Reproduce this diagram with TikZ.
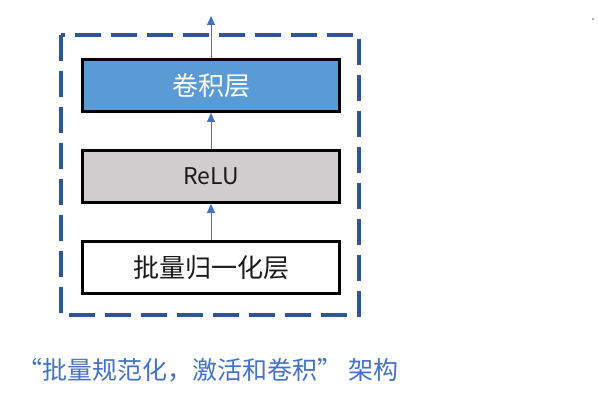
\documentclass[tikz,border=0pt]{standalone}
\usepackage{fontspec}
\setmainfont{Noto Sans CJK SC}
\usetikzlibrary{arrows.meta}
\definecolor{dashblue}{HTML}{2F5597}
\definecolor{arrblue}{HTML}{4472C4}
\definecolor{boxblue}{HTML}{5B9BD5}
\definecolor{boxgrey}{HTML}{D0CECE}
\definecolor{txtdark}{HTML}{1A1A1A}
\tikzset{
  layer/.style={draw=black,line width=3pt,minimum width=257pt,minimum height=52pt,inner sep=0pt,font=\fontsize{26}{30}\selectfont},
  flow/.style={draw=arrblue,line width=0.9pt,-{Triangle[width=8pt,length=9pt]},arrblue},
  frame/.style={draw=dashblue,line width=3.3pt,dash pattern=on 26pt off 10pt}
}
\begin{document}
\begin{tikzpicture}[x=1pt,y=-1pt]
\useasboundingbox (0,0) rectangle (598,401);
\draw[frame] (61,35) rectangle (359,315);
\node[layer,fill=boxblue,text=white] (conv) at (211,85.5) {卷积层};
\node[layer,fill=boxgrey,text=txtdark,font=\fontsize{23}{28}\selectfont] (relu) at (211,176.5) {ReLU};
\node[layer,fill=white,text=txtdark] (bn) at (211,267.5) {批量归一化层};
\coordinate (out) at (211,16);
\draw[flow] (bn.north) -- (relu.south);
\draw[flow] (relu.north) -- (conv.south);
\draw[flow] (conv.north) -- (out);
\node[anchor=west,text=arrblue,font=\fontsize{25}{30}\selectfont,inner sep=0pt] (cap) at (17,370) {“批量规范化，激活和卷积”\hspace{0.25em}架构};
\fill[gray!60] (593,19) circle (1.5);
\end{tikzpicture}
\end{document}
